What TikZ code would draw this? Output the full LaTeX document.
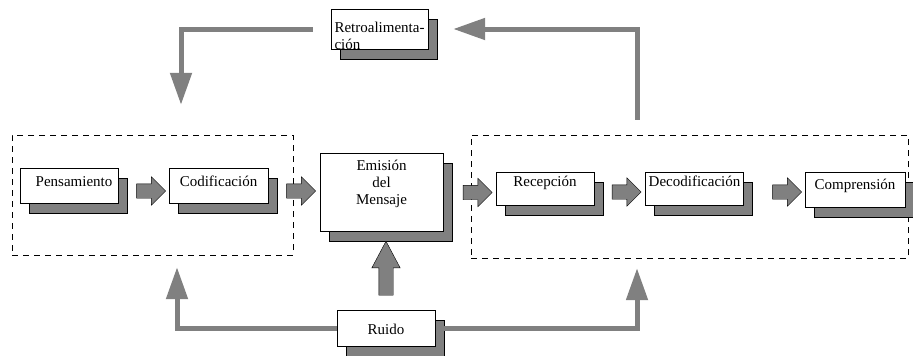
\documentclass[tikz,border=0pt]{standalone}
\usepackage{fontspec}
\setmainfont{Liberation Serif}
\usepackage{tikz}
\usetikzlibrary{calc}
\usetikzlibrary{arrows.meta}
\usetikzlibrary{shapes.arrows}
\usetikzlibrary{shadows}
\tikzset{>=latex}
\colorlet{dotgray}{black!50}
\tikzset{box/.style = {shape=rectangle,draw,fill=white,inner sep=3pt,text height=10pt,text depth=3pt,
    drop shadow={shadow xshift=9pt,shadow yshift=-10pt,fill=dotgray,draw=black,opacity=1}}}
\tikzset{lift/.style = {text depth=#1}}
\tikzset{group/.style = {shape=rectangle,draw,dash pattern=on 6pt off 5pt,inner sep=0pt}}
\tikzset{blockarrow/.style = {shape=single arrow,draw,fill=dotgray,inner sep=7pt,
    minimum height=29pt,single arrow head extend=7pt}}
\tikzset{feedback/.style = {draw=dotgray,line width=5pt,-{Triangle[width=21pt,length=32pt,fill=dotgray]}}}

\begin{document}
\begin{tikzpicture}[x=1pt,y=-1pt,font=\fontsize{15}{17}\selectfont]
            \useasboundingbox (0,0) rectangle (913,356);

            % Groups
            \node[group,minimum width=281pt,minimum height=120pt] (sender) at (152.5,195) {};
            \node[group,minimum width=437pt,minimum height=123pt] (receiver) at (689.5,196.5) {};

            % Boxes
            \node[box,lift=9pt,minimum width=98pt,minimum height=35pt] (pen) at (69,185.5) {\hspace*{10pt}Pensamiento};
            \node[box,lift=9pt,minimum width=99pt,minimum height=35pt] (cod) at (218.5,185.5) {Codificación};
            \node[box,text height=,text depth=,minimum width=123pt,minimum height=78pt] (emi) at (381.5,192)
                {\raisebox{8pt}[29pt][22pt]{\begin{tabular}{@{}c@{}}Emisión\\del\\Mensaje\end{tabular}}};
            \node[box,lift=15pt,minimum width=98pt,minimum height=33pt] (rec) at (545,188.5) {Recepción};
            \node[box,lift=15pt,minimum width=97pt,minimum height=33pt] (dec) at (694.5,188.5) {Decodificación};
            \node[box,lift=11pt,minimum width=100pt,minimum height=35pt] (com) at (855,190) {Comprensión};
            \node[box,text height=,text depth=,minimum width=97pt,minimum height=36pt] (retro) at (379.5,29)
                {\raisebox{-8pt}[21pt][13pt]{\begin{tabular}{@{}l@{}}Retroalimenta-\\ción\end{tabular}}};
            \node[box,text height=16pt,minimum width=98pt,minimum height=36pt] (ruido) at (386,328) {Ruido};

            % Block arrows
            \node[blockarrow] (pc) at (147.5,191) {};
            \node[blockarrow] (ce) at (297.5,191) {};
            \node[blockarrow] (er) at (474,192.5) {};
            \node[blockarrow] (rd) at (623,192) {};
            \node[blockarrow] (dc) at (783.5,192) {};
            \node[blockarrow,shape border rotate=90,minimum height=54pt,single arrow tip angle=56] (noise) at (386,275) {};

            % Feedback
            \draw[feedback,shorten <=18pt,shorten >=30pt] (retro.west) -| ([xshift=28.5pt]sender.north);
            \draw[feedback,shorten <=15pt,shorten >=25pt] ([xshift=-52.5pt]receiver.north) |- (retro.east);
            \draw[feedback,shorten >=12pt] (ruido.west) -| ([xshift=24.5pt]sender.south);
            \draw[feedback,shorten <=8pt,shorten >=10pt] (ruido.east) -| ([xshift=-52.5pt]receiver.south);
        \end{tikzpicture}
\end{document}
